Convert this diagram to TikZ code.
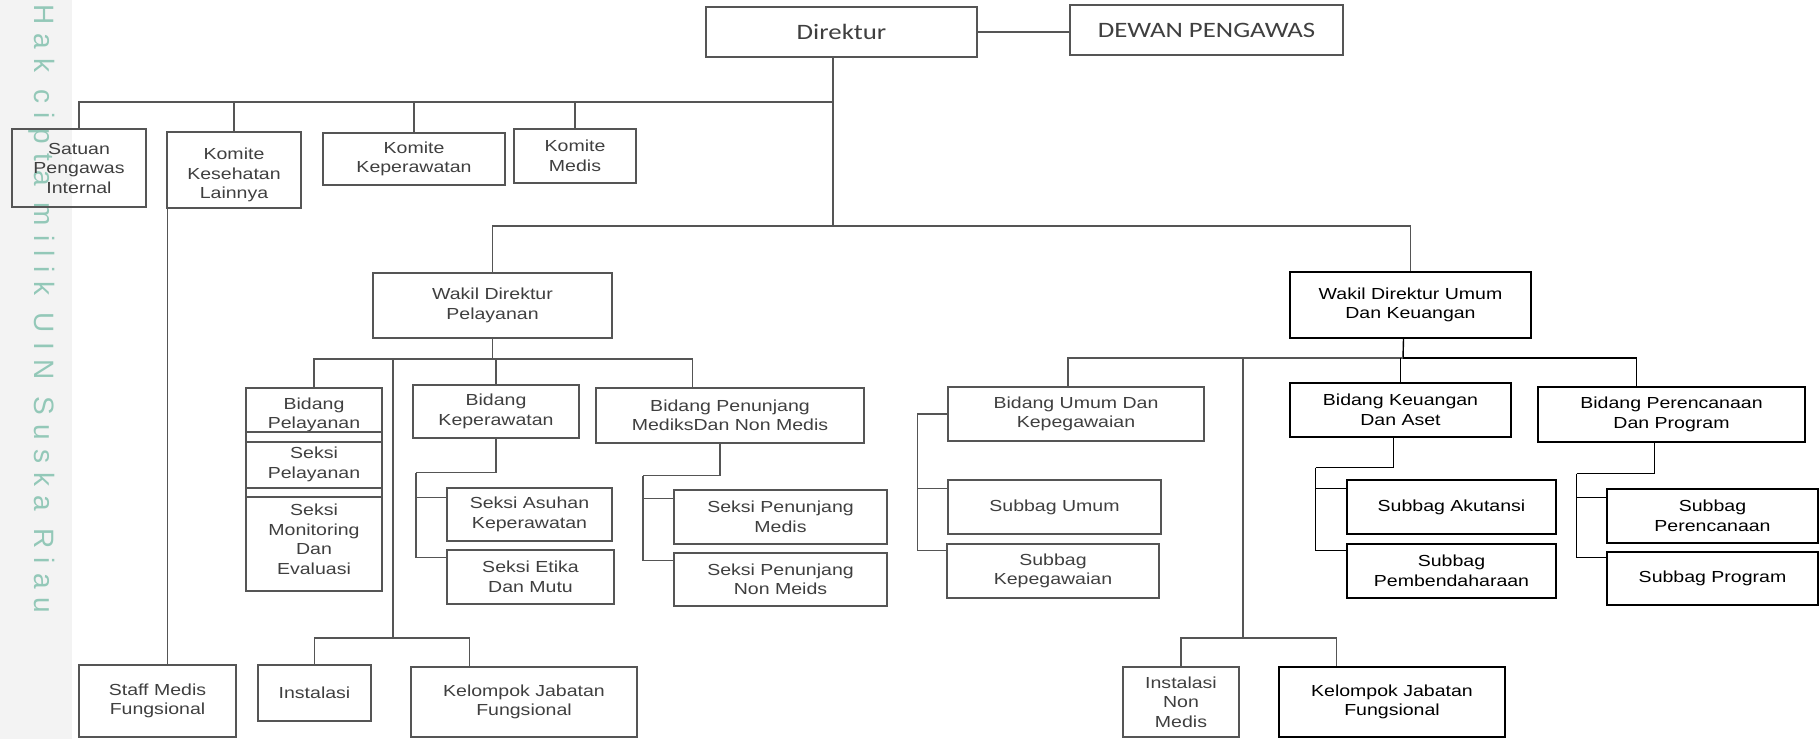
\documentclass[tikz,border=0pt]{standalone}
\usepackage{fontspec}
\setmainfont{Liberation Sans}
\newfontfamily\arialx[FakeStretch=1.22]{Liberation Sans}
\newfontfamily\calx[FakeStretch=1.22]{Carlito}
\newfontfamily\wmfont[LetterSpace=33]{Liberation Sans}
\usetikzlibrary{calc}
\definecolor{gline}{HTML}{555555}
\definecolor{gtext}{HTML}{3F3F3F}
\definecolor{wm}{HTML}{93C8B8}
\definecolor{strip}{HTML}{F3F3F3}
\tikzset{
 box/.style={draw=gline, line width=1.4pt, inner sep=0pt, align=center, text=gtext, font=\arialx\fontsize{16}{19.5}\selectfont},
 dbox/.style={box, draw=black, text=black},
 cbox/.style={box, font=\calx\fontsize{22}{25}\selectfont},
 conn/.style={draw=gline, line width=1.4pt},
 dconn/.style={draw=black, line width=1.4pt},
}
\newcommand\obox[7][box]{\node[#1, minimum width={#5-#3}, minimum height={#6-#4}] (#2) at ({(#3+#5)/2},{(#4+#6)/2}) {#7};}
\begin{document}
\begin{tikzpicture}[x=1pt,y=-1pt]
\useasboundingbox (0,0) rectangle (1820,739);
\fill[strip] (0,0) rectangle (72,739);
\node[rotate=-90, text=wm, font=\wmfont\fontsize{28}{28}\selectfont] (wmtext) at (42,309) {Hak cipta milik UIN Suska Riau};

% top level
\obox[cbox]{dir}{706}{7}{977}{57}{Direktur}
\obox[cbox]{dewan}{1070}{5}{1343}{55}{DEWAN PENGAWAS}
\obox{spi}{12}{129}{146}{207}{Satuan\\Pengawas\\Internal}
\obox{kkl}{167}{132}{301}{208}{}
\begin{scope}
\clip (kkl.north west) rectangle ([yshift=7pt]kkl.south east);
\node[box, draw=none] (kkltxt) at ([yshift=-5pt]kkl.center) {\fontsize{16}{21}\selectfont Komite\\Kesehatan\\Lainnya};
\end{scope}
\obox{kkp}{323}{133}{505}{185}{Komite\\Keperawatan}
\obox{kmed}{514}{129}{636}{183}{Komite\\Medis}
\obox{smf}{79}{665}{236}{737}{Staff Medis\\Fungsional}

% wakil direktur
\obox{wdp}{373}{273}{612}{338}{Wakil Direktur\\Pelayanan}
\obox[dbox]{wduk}{1290}{272}{1531}{338}{Wakil Direktur Umum\\Dan Keuangan}

% pelayanan branch
\obox{bpel}{246}{388}{382}{442}{Bidang\\Pelayanan}
\obox{spel}{246}{432}{382}{497}{Seksi\\Pelayanan}
\obox{smon}{246}{488}{382}{591}{Seksi\\Monitoring\\Dan\\Evaluasi}
\obox{bkep}{413}{385}{579}{438}{Bidang\\Keperawatan}
\obox{sak}{447}{488}{612}{541}{Seksi Asuhan\\Keperawatan}
\obox{set}{447}{550}{614}{604}{Seksi Etika\\Dan Mutu}
\obox{bpen}{596}{388}{864}{443}{Bidang Penunjang\\MediksDan Non Medis}
\obox{spm}{674}{490}{887}{544}{Seksi Penunjang\\Medis}
\obox{spn}{674}{553}{887}{606}{Seksi Penunjang\\Non Meids}
\obox{inst}{258}{665}{371}{721}{Instalasi}
\obox{kjf1}{411}{667}{637}{737}{Kelompok Jabatan\\Fungsional}

% umum branch
\obox{bumum}{948}{387}{1204}{441}{Bidang Umum Dan\\Kepegawaian}
\obox{sumum}{948}{480}{1161}{534}{Subbag Umum}
\obox{skep}{947}{544}{1159}{598}{Subbag\\Kepegawaian}
\obox[dbox]{bkeu}{1290}{383}{1511}{437}{Bidang Keuangan\\Dan Aset}
\obox[dbox]{sakt}{1347}{480}{1556}{534}{Subbag Akutansi}
\obox[dbox]{spb}{1347}{544}{1556}{598}{Subbag\\Pembendaharaan}
\obox[dbox]{bper}{1538}{387}{1805}{442}{Bidang Perencanaan\\Dan Program}
\obox[dbox]{sper}{1607}{489}{1818}{543}{Subbag\\Perencanaan}
\obox[dbox]{sprog}{1607}{552}{1818}{605}{Subbag Program}
\obox{inm}{1123}{667}{1239}{737}{Instalasi\\Non\\Medis}
\obox[dbox]{kjf2}{1279}{667}{1505}{737}{Kelompok Jabatan\\Fungsional}

% connectors: top
\draw[conn] (dir.east) -- (dir.east -| dewan.west);
\coordinate (mj) at (833,226);
\coordinate (kj) at (833,102);
\draw[conn] (mj |- dir.south) -- (mj);
\draw[conn] (spi.north) |- (kj);
\draw[conn] (kkl.north) -- (kkl.north |- kj);
\draw[conn] (kkp.north) -- (kkp.north |- kj);
\draw[conn] (kmed.north) -- (kmed.north |- kj);
\coordinate (sml) at ([xshift=1pt]kkl.south west);
\draw[conn] (sml) -- (sml |- smf.north);
\draw[conn] (wdp.north) |- (mj) -| (wduk.north);

% connectors: pelayanan
\coordinate (pj) at (493,359);
\draw[conn] (wdp.south) -- (wdp.south |- pj);
\draw[conn] (bpel.north) |- (pj) -| ([xshift=97pt]bpen.north west);
\draw[conn] (bkep.north) -- (bkep.north |- pj);
\coordinate (ij) at (393,638);
\draw[conn] (ij |- pj) -- (ij);
\draw[conn] (inst.north) |- (ij) -| ([xshift=59pt]kjf1.north west);
\draw[conn] (bkep.south) -- ++(0,34) -- ++(-80,0) coordinate (kb1);
\draw[conn] (kb1) |- ([yshift=-10pt]sak.north west);
\draw[conn] (kb1) |- ([yshift=-8pt]set.north west);
\draw[conn] ([xshift=-10pt]bpen.south) -- ++(0,32) -- ++(-77,0) coordinate (kb2);
\draw[conn] (kb2) |- ([yshift=-9pt]spm.north west);
\draw[conn] (kb2) |- ([yshift=-8pt]spn.north west);

% connectors: umum
\coordinate (uj) at (1403,358);
\draw[dconn] ([xshift=-7pt]wduk.south) -- (uj);
\draw[conn] ([xshift=-8pt]bumum.north) |- (uj);
\draw[dconn] (uj) -| ([xshift=-35pt]bper.north);
\draw[dconn] (bkeu.north) -- (bkeu.north |- uj);
\coordinate (nj) at (1243,638);
\draw[conn] (nj |- uj) -- (nj);
\draw[conn] (inm.north) |- (nj) -| ([xshift=58pt]kjf2.north west);
\draw[conn] (bumum.west) -- ++(-30,0) coordinate (ub1);
\draw[conn] (ub1) |- ([yshift=-9pt]sumum.north west);
\draw[conn] (ub1) |- ([yshift=-7pt]skep.north west);
\draw[dconn] ([xshift=-7pt]bkeu.south) -- ++(0,30) -- ++(-78,0) coordinate (kb3);
\draw[dconn] (kb3) |- ([yshift=-9pt]sakt.north west);
\draw[dconn] (kb3) |- ([yshift=-7pt]spb.north west);
\draw[dconn] ([xshift=-17pt]bper.south) -- ++(0,31) -- ++(-78,0) coordinate (kb4);
\draw[dconn] (kb4) |- ([yshift=-9pt]sper.north west);
\draw[dconn] (kb4) |- ([yshift=-6pt]sprog.north west);
\end{tikzpicture}
\end{document}
